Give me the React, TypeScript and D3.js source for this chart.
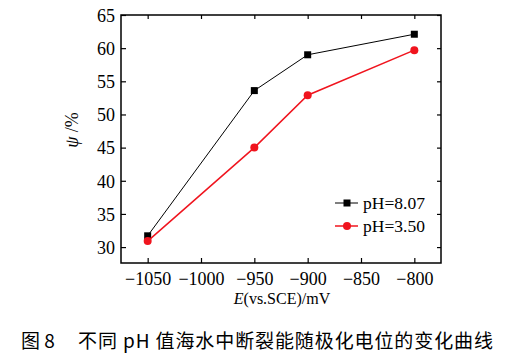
import { useEffect, useRef } from 'react';
import * as d3 from 'd3';

const potentials = [-1050, -950, -900, -800];
const psiPH807 = [31.7, 53.6, 59.0, 62.1];
const psiPH350 = [30.9, 45.0, 52.9, 59.7];
const seriesNames = ['pH=8.07', 'pH=3.50'];
const xTicks = [-1050, -1000, -950, -900, -850, -800];
const yTicks = [30, 35, 40, 45, 50, 55, 60, 65];

const App = () => {
  const ref = useRef<SVGSVGElement>(null);

  useEffect(() => {
    const width = 505;
    const height = 362;
    const m = { left: 121, right: 441, top: 15, bottom: 263 };
    const serif = '"Liberation Serif", "Times New Roman", serif';

    const svg = d3.select(ref.current);
    svg.selectAll('*').remove();
    svg.attr('width', width).attr('height', height).style('background', '#fff');

    const x = d3.scaleLinear().domain([-1075, -775]).range([m.left, m.right]);
    const y = d3.scaleLinear().domain([27.6, 65]).range([m.bottom, m.top]);

    // frame
    svg.append('rect')
      .attr('x', m.left).attr('y', m.top)
      .attr('width', m.right - m.left).attr('height', m.bottom - m.top)
      .attr('fill', 'none').attr('stroke', '#000').attr('stroke-width', 1.5);

    // axes with inward ticks
    const bottom = svg.append('g').attr('transform', `translate(0,${m.bottom})`)
      .call(d3.axisBottom(x).tickValues(xTicks).tickSizeInner(-5).tickSizeOuter(0).tickPadding(9)
        .tickFormat(d => String(d).replace('-', '\u2212')));
    const left = svg.append('g').attr('transform', `translate(${m.left},0)`)
      .call(d3.axisLeft(y).tickValues(yTicks).tickSizeInner(-5).tickSizeOuter(0).tickPadding(6));
    svg.append('g').attr('transform', `translate(0,${m.top})`)
      .call(d3.axisTop(x).tickValues(xTicks).tickSizeInner(-4).tickSizeOuter(0).tickFormat(() => ''));
    svg.append('g').attr('transform', `translate(${m.right},0)`)
      .call(d3.axisRight(y).tickValues(yTicks).tickSizeInner(-4).tickSizeOuter(0).tickFormat(() => ''));

    svg.selectAll('.domain').remove();
    svg.selectAll('.tick line').attr('stroke', '#000').attr('stroke-width', 1.2);
    [bottom, left].forEach(g => g.selectAll('text')
      .attr('font-family', serif).attr('font-size', 18).attr('fill', '#000'));
    left.selectAll('text').attr('dy', '0.35em');

    const series = [
      { name: seriesNames[0], values: psiPH807, color: '#000', width: 1, shape: 'square' },
      { name: seriesNames[1], values: psiPH350, color: '#f0141e', width: 1.5, shape: 'circle' },
    ];

    const line = d3.line<number>()
      .x((_, i) => x(potentials[i]))
      .y(d => y(d));

    const drawMarker = (g: any, shape: string, cx: number, cy: number, color: string) => {
      if (shape === 'square') {
        g.append('rect').attr('x', cx - 3.5).attr('y', cy - 3.5)
          .attr('width', 7).attr('height', 7).attr('fill', color);
      } else {
        g.append('circle').attr('cx', cx).attr('cy', cy).attr('r', 4).attr('fill', color);
      }
    };

    series.forEach(s => {
      svg.append('path').datum(s.values)
        .attr('d', line).attr('fill', 'none')
        .attr('stroke', s.color).attr('stroke-width', s.width);
      const g = svg.append('g');
      s.values.forEach((v, i) => drawMarker(g, s.shape, x(potentials[i]), y(v), s.color));
    });

    // legend
    series.forEach((s, i) => {
      const ly = 203 + i * 23;
      const g = svg.append('g');
      g.append('line').attr('x1', 335).attr('x2', 358).attr('y1', ly).attr('y2', ly)
        .attr('stroke', s.color).attr('stroke-width', s.width);
      drawMarker(g, s.shape, 347, ly, s.color);
      g.append('text').attr('x', 363).attr('y', ly + 6)
        .attr('font-family', serif).attr('font-size', 17.5).text(s.name);
    });

    // axis titles
    const yl = svg.append('text')
      .attr('transform', 'translate(78,130) rotate(-90)')
      .attr('text-anchor', 'middle')
      .attr('font-family', serif).attr('font-size', 18);
    yl.append('tspan').attr('font-style', 'italic').text('\u03c8');
    yl.append('tspan').text(' /%');

    const xl = svg.append('text')
      .attr('x', 282).attr('y', 304)
      .attr('text-anchor', 'middle')
      .attr('font-family', serif).attr('font-size', 16);
    xl.append('tspan').attr('font-style', 'italic').text('E');
    xl.append('tspan').text('(vs.SCE)/mV');

    // caption
    const cjk = '"Noto Sans CJK SC", "Liberation Serif", serif';
    svg.append('text').attr('x', 21).attr('y', 348)
      .attr('font-family', cjk).attr('font-size', 19).text('图 8');
    svg.append('text').attr('x', 78).attr('y', 348)
      .attr('font-family', cjk).attr('font-size', 19)
      .attr('textLength', 415).attr('lengthAdjust', 'spacing')
      .text('不同 pH 值海水中断裂能随极化电位的变化曲线');
  }, []);

  return <svg ref={ref} style={{ display: 'block', position: 'absolute', left: 0, top: 0 }}></svg>;
};

export default App;
